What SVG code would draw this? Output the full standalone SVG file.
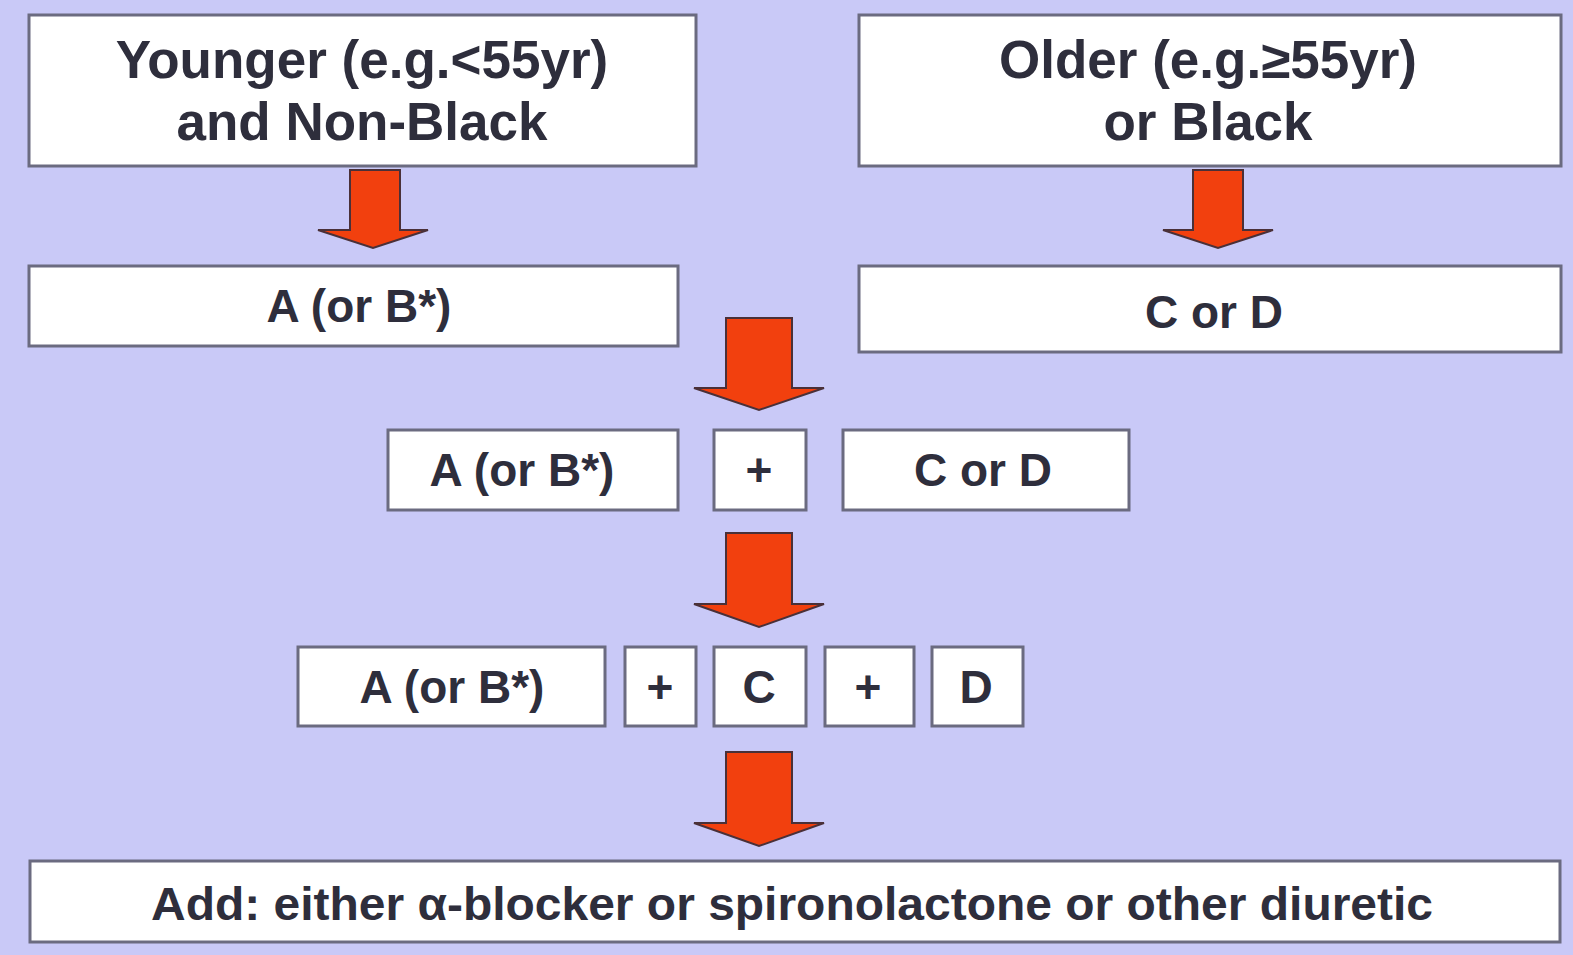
<svg xmlns="http://www.w3.org/2000/svg" width="1573" height="955" viewBox="0 0 1573 955">
<style>
.bg{fill:#c9c9f7}
.box{fill:#ffffff;stroke:#6b6b80;stroke-width:3}
.t{font-family:"Liberation Sans",Arial,sans-serif;font-weight:bold;fill:#2e2e3c;text-anchor:middle}
.big{font-size:53px}
.mid{font-size:46px}
.arr{fill:#f2400e;stroke:#4a3038;stroke-width:2;stroke-linejoin:miter}
</style>
<rect class="bg" x="0" y="0" width="1573" height="955"/>
<g id="connectors">
<path class="arr" d="M350,170 H400 V230 H428 L373,248 L318,230 H350 Z"/>
<path class="arr" d="M1193,170 H1243 V230 H1273 L1218,248 L1163,230 H1193 Z"/>
<path class="arr" d="M726,318 H792 V388 H824 L759,410 L694,388 H726 Z"/>
<path class="arr" d="M726,533 H792 V604 H824 L759,627 L694,604 H726 Z"/>
<path class="arr" d="M726,752 H792 V823 H824 L759,846 L694,823 H726 Z"/>
</g>
<g id="younger">
<rect class="box" x="29" y="15" width="667" height="151"/>
<text class="t big" x="362" y="78">Younger (e.g.&lt;55yr)</text>
<text class="t big" x="362" y="140">and Non-Black</text>
</g>
<g id="older">
<rect class="box" x="859" y="15" width="702" height="151"/>
<text class="t big" x="1208" y="78">Older (e.g.≥55yr)</text>
<text class="t big" x="1208" y="140">or Black</text>
</g>
<g id="a1">
<rect class="box" x="29" y="266" width="649" height="80"/>
<text class="t mid" x="359" y="322">A (or B*)</text>
</g>
<g id="cd1">
<rect class="box" x="859" y="266" width="702" height="86"/>
<text class="t mid" x="1214" y="328">C or D</text>
</g>
<g id="a2">
<rect class="box" x="388" y="430" width="290" height="80"/>
<text class="t mid" x="522" y="486">A (or B*)</text>
</g>
<g id="plus1">
<rect class="box" x="714" y="430" width="92" height="80"/>
<text class="t mid" x="759" y="486">+</text>
</g>
<g id="cd2">
<rect class="box" x="843" y="430" width="286" height="80"/>
<text class="t mid" x="983" y="486">C or D</text>
</g>
<g id="a3">
<rect class="box" x="298" y="647" width="307" height="79"/>
<text class="t mid" x="452" y="703">A (or B*)</text>
</g>
<g id="plus2">
<rect class="box" x="625" y="647" width="71" height="79"/>
<text class="t mid" x="660" y="703">+</text>
</g>
<g id="c">
<rect class="box" x="714" y="647" width="92" height="79"/>
<text class="t mid" x="759" y="703">C</text>
</g>
<g id="plus3">
<rect class="box" x="825" y="647" width="89" height="79"/>
<text class="t mid" x="868" y="703">+</text>
</g>
<g id="d">
<rect class="box" x="932" y="647" width="91" height="79"/>
<text class="t mid" x="976" y="703">D</text>
</g>
<g id="add">
<rect class="box" x="30" y="861" width="1530" height="81"/>
<text class="t" style="font-size:46px" x="792" y="920" textLength="1282" lengthAdjust="spacingAndGlyphs">Add: either α-blocker or spironolactone or other diuretic</text>
</g>
</svg>
